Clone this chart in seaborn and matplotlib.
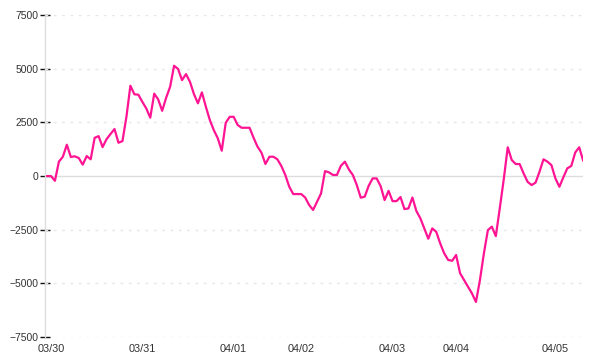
import matplotlib
matplotlib.use("Agg")
import matplotlib.pyplot as plt
import seaborn as sns
import pandas as pd

values = [
    0, 0, -220, 670, 900, 1460, 890, 920, 840, 530,
    930, 780, 1780, 1860, 1350, 1720, 1960, 2190, 1550, 1630,
    2760, 4210, 3810, 3790, 3460, 3150, 2720, 3840, 3570, 3040,
    3650, 4160, 5140, 4990, 4470, 4750, 4390, 3820, 3390, 3900,
    3230, 2610, 2140, 1760, 1180, 2480, 2760, 2760, 2380, 2250,
    2250, 2250, 1790, 1370, 1090, 560, 900, 900, 780, 470,
    50, -500, -840, -840, -840, -1000, -1350, -1580, -1200, -810,
    230, 170, 50, 50, 480, 670, 310, 50, -420, -1010,
    -960, -450, -110, -110, -470, -1120, -690, -1170, -1170, -980,
    -1540, -1510, -1000, -1630, -1970, -2440, -2920, -2440, -2600, -3140,
    -3600, -3910, -3950, -3680, -4530, -4850, -5160, -5470, -5870, -4850,
    -3600, -2520, -2360, -2800, -1500, -150, 1340, 750, 560, 560,
    120, -270, -420, -310, 200, 780, 670, 510, -110, -500,
    -60, 360, 470, 1100, 1340, 710,
]
day_labels = ["03/30", "03/31", "04/01", "04/02", "04/03", "04/04", "04/05"]
day_index = [1, 24, 47, 64, 87, 103, 128]
y_ticks = [-7500, -5000, -2500, 0, 2500, 5000, 7500]

df = pd.DataFrame({"idx": range(len(values)), "value": values})

sns.set_style("white")
plt.rcParams["font.family"] = ["Liberation Sans", "DejaVu Sans"]

fig = plt.figure(figsize=(6, 3.6), dpi=100)
ax = fig.add_axes([0.075, 0.064, 0.897, 0.894])

for t in y_ticks:
    if t == 0:
        ax.axhline(t, color="#dddddd", lw=1, zorder=1)
    else:
        ax.axhline(t, color="#e6e6e6", lw=1, ls=(0, (2, 4)), zorder=1)

sns.lineplot(data=df, x="idx", y="value", ax=ax, color="#ff1493", lw=1.6, zorder=3)

ax.set_xlim(-0.5, 135)
ax.set_ylim(-7500, 7500)
ax.set_yticks(y_ticks)
ax.set_yticklabels([str(t).replace("-", "\u2212") for t in y_ticks])
ax.set_xticks(day_index)
ax.set_xticklabels(day_labels)
ax.set_xlabel("")
ax.set_ylabel("")

for s in ["top", "right", "bottom"]:
    ax.spines[s].set_visible(False)
ax.spines["left"].set_color("#dddddd")
ax.spines["left"].set_linewidth(1)

ax.tick_params(axis="y", left=True, direction="inout", length=7, width=1, color="#111111",
               labelsize=7.4, labelcolor="#333333", pad=1)
ax.tick_params(axis="x", bottom=False, length=0, labelsize=7.8, labelcolor="#333333", pad=5)
ax.grid(False)

fig.savefig("out.png", dpi=100)
